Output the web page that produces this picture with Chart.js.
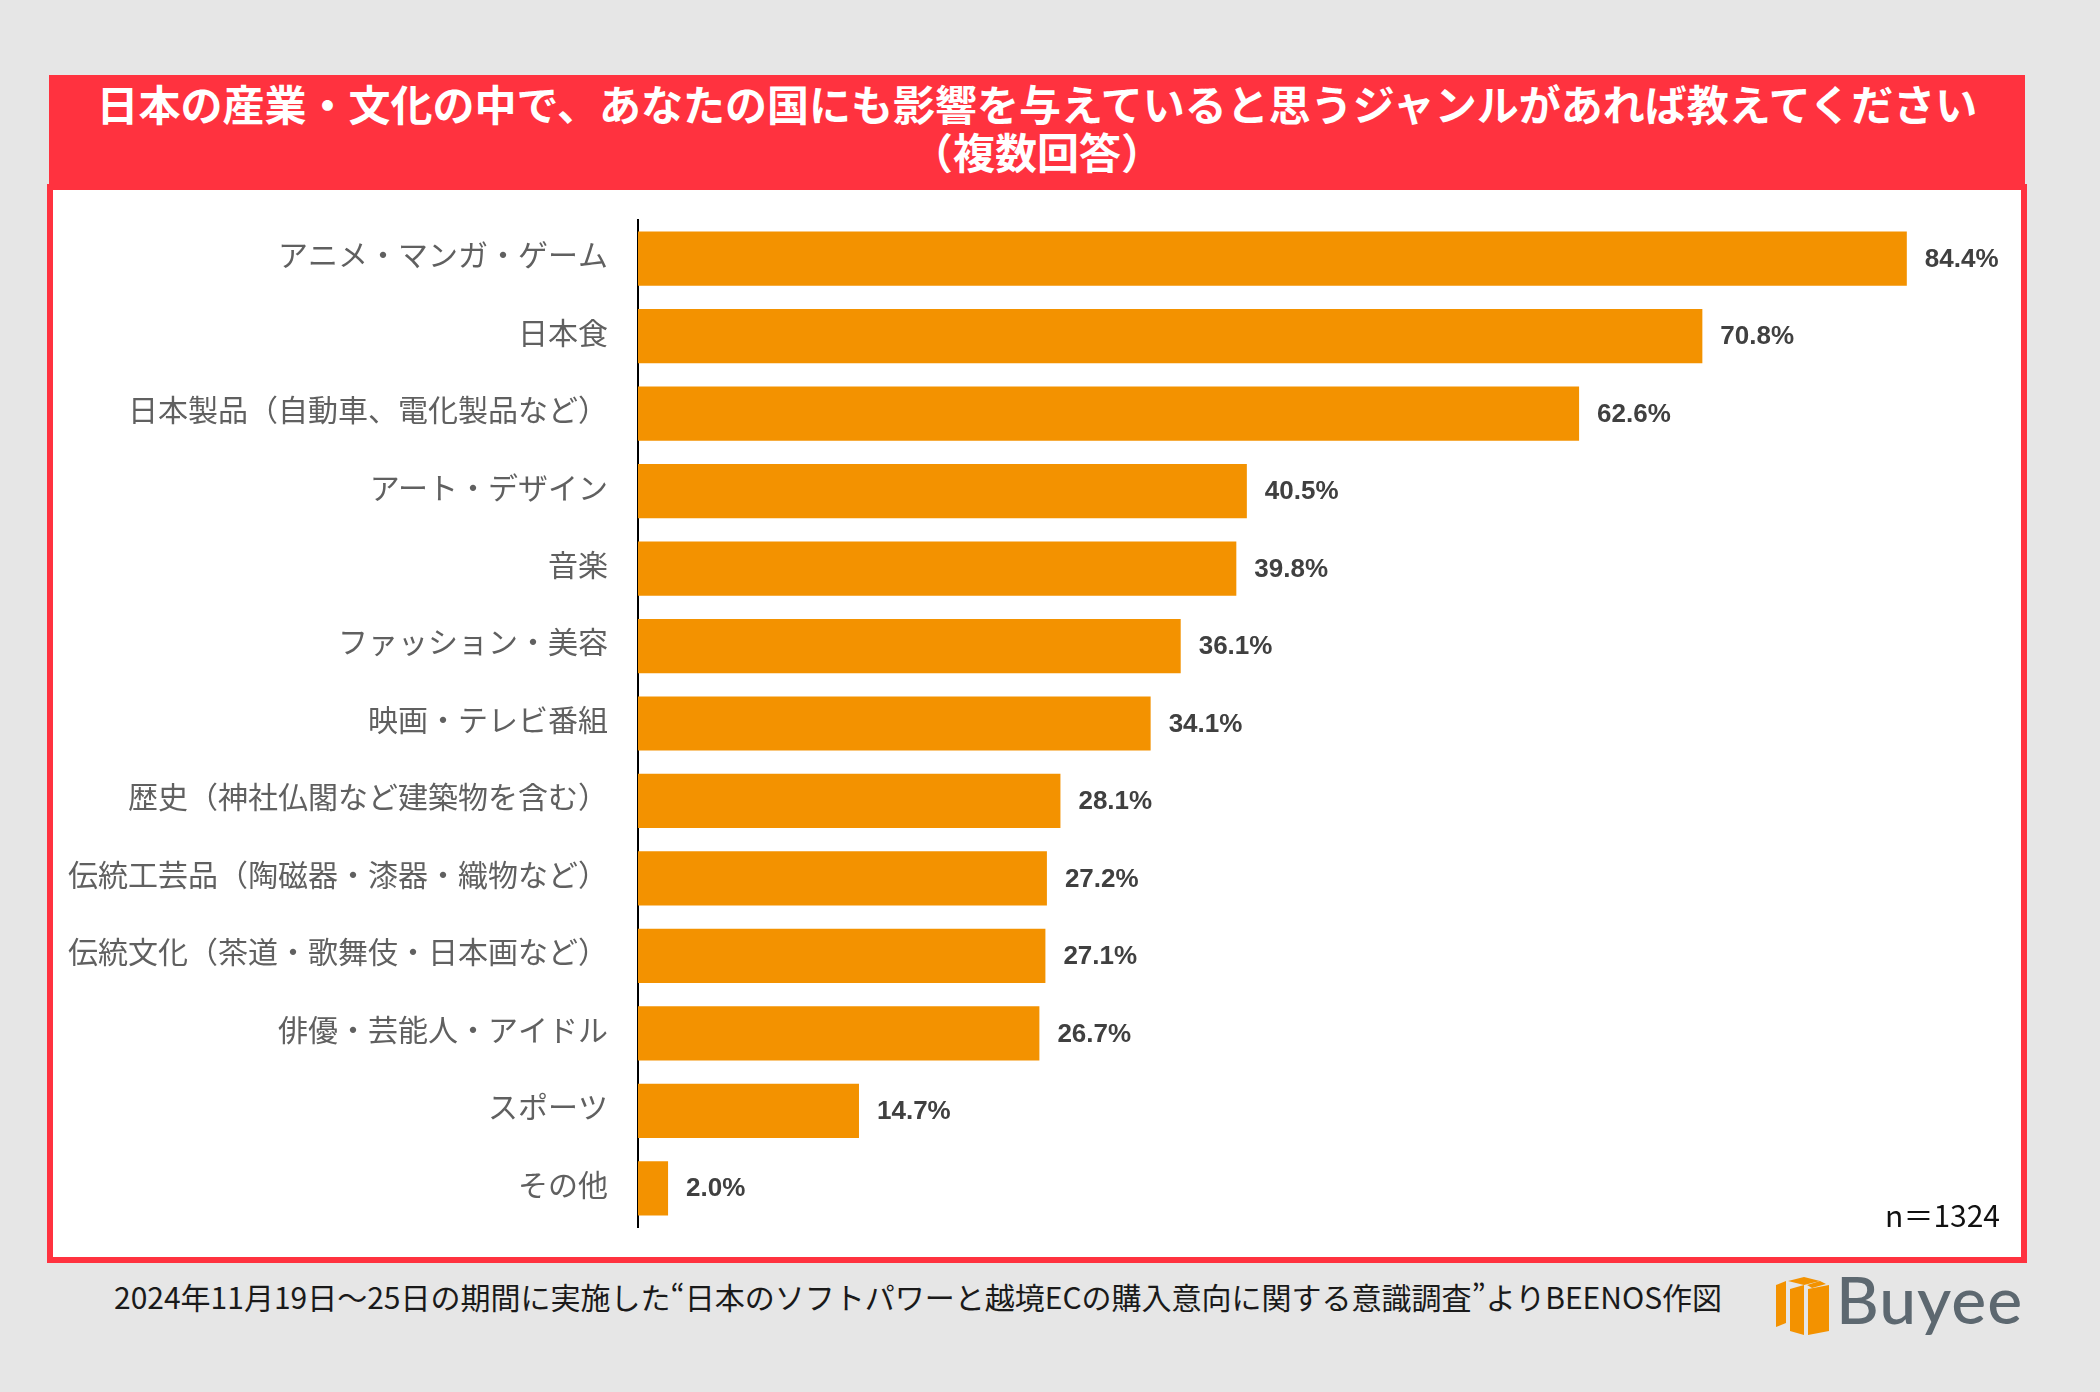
<!DOCTYPE html>
<html lang="ja">
<head>
    <meta charset="UTF-8">
    <title>日本の産業・文化の影響</title>
    <script src="https://cdn.jsdelivr.net/npm/chart.js"></script>
    <style>
        body {
            margin: 0;
            width: 2100px;
            height: 1392px;
            background: #e6e6e6;
            position: relative;
            overflow: hidden;
            font-family: 'Noto Sans CJK JP', 'Noto Sans', sans-serif;
        }
        .title-bar {
            position: absolute;
            left: 49px;
            top: 75px;
            width: 1976px;
            height: 115px;
            background: #ff323f;
            color: #fff;
            font-weight: bold;
            font-size: 42px;
            line-height: 48px;
            text-align: center;
            padding-top: 4px;
            box-sizing: border-box;
            z-index: 2;
        }
        .panel {
            position: absolute;
            left: 47px;
            top: 184px;
            width: 1980px;
            height: 1079px;
            background: #fff;
            border: 6px solid #ff323f;
            box-sizing: border-box;
            z-index: 1;
        }
        #chartBox {
            position: absolute;
            left: 52px;
            top: 190px;
            z-index: 3;
        }
        .note-n {
            position: absolute;
            right: 100px;
            top: 1192px;
            font-size: 30px;
            color: #111;
            z-index: 3;
        }
        .source {
            position: absolute;
            left: 114px;
            top: 1274px;
            font-size: 30px;
            color: #1a1a1a;
            white-space: nowrap;
        }
        .logo {
            position: absolute;
            left: 1774px;
            top: 1275px;
            width: 60px;
            height: 62px;
        }
        .logo-text {
            position: absolute;
            left: 1836px;
            top: 1259px;
            font-family: Lato, 'Open Sans', sans-serif;
            font-size: 66px;
            font-weight: 500;
            color: #5d6870;
            letter-spacing: 1px;
        }
    </style>
</head>
<body>
    <div class="title-bar">日本の産業・文化の中で、あなたの国にも影響を与えていると思うジャンルがあれば教えてください<br>（複数回答）</div>
    <div class="panel"></div>
    <div id="chartBox"><canvas id="genreChart" width="1969" height="1067"></canvas></div>
    <div class="note-n">n＝1324</div>
    <div class="source">2024年11月19日～25日の期間に実施した“日本のソフトパワーと越境ECの購入意向に関する意識調査”よりBEENOS作図</div>
    <svg class="logo" viewBox="0 0 60 62">
        <polygon points="2,10 12,6 12,48 2,52" fill="#f39200"/>
        <polygon points="14,6 30,2 46,6 30,10" fill="#f39200"/>
        <polygon points="16,14 30,10 30,60 16,56" fill="#f39200"/>
        <polygon points="33,10 46,6 52,9 38,13" fill="#f39200"/>
        <polygon points="34,14 55,10 55,56 34,60" fill="#f39200"/>
    </svg>
    <div class="logo-text">Buyee</div>

    <script>
        // categories and values
        const genres = [
            'アニメ・マンガ・ゲーム',
            '日本食',
            '日本製品（自動車、電化製品など）',
            'アート・デザイン',
            '音楽',
            'ファッション・美容',
            '映画・テレビ番組',
            '歴史（神社仏閣など建築物を含む）',
            '伝統工芸品（陶磁器・漆器・織物など）',
            '伝統文化（茶道・歌舞伎・日本画など）',
            '俳優・芸能人・アイドル',
            'スポーツ',
            'その他'
        ];
        const shares = [84.4, 70.8, 62.6, 40.5, 39.8, 36.1, 34.1, 28.1, 27.2, 27.1, 26.7, 14.7, 2.0];

        // value labels to the right of each bar
        const valueLabels = {
            id: 'valueLabels',
            afterDatasetsDraw(chart) {
                const ctx = chart.ctx;
                const meta = chart.getDatasetMeta(0);
                ctx.save();
                ctx.font = 'bold 26px "Liberation Sans", Arial, sans-serif';
                ctx.fillStyle = '#404040';
                ctx.textAlign = 'left';
                ctx.textBaseline = 'middle';
                meta.data.forEach((bar, i) => {
                    ctx.fillText(shares[i].toFixed(1) + '%', bar.x + 18, bar.y + 1);
                });
                ctx.restore();
            }
        };

        new Chart(document.getElementById('genreChart'), {
            type: 'bar',
            data: {
                labels: genres,
                datasets: [{
                    data: shares,
                    backgroundColor: '#f39200',
                    borderWidth: 0,
                    barPercentage: 0.7,
                    categoryPercentage: 1
                }]
            },
            options: {
                indexAxis: 'y',
                responsive: false,
                animation: false,
                devicePixelRatio: 1,
                layout: { padding: { top: 30, bottom: 30, right: 30, left: 0 } },
                plugins: {
                    legend: { display: false },
                    tooltip: { enabled: false }
                },
                scales: {
                    x: { display: false, min: 0, max: 90 },
                    y: {
                        // fixed label column, no extra label overhang padding
                        afterFit(scale) {
                            scale.width = 586;
                            scale.paddingTop = 0;
                            scale.paddingBottom = 0;
                        },
                        grid: { display: false, drawTicks: false },
                        border: { display: true, color: '#000', width: 2 },
                        ticks: {
                            padding: 30,
                            labelOffset: -4,
                            color: '#606060',
                            font: { family: '"Noto Sans CJK JP"', size: 30 }
                        }
                    }
                }
            },
            plugins: [valueLabels]
        });
    </script>
</body>
</html>
